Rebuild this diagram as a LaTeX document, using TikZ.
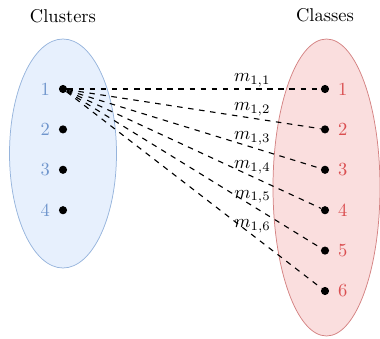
\documentclass[tikz,border=0pt]{standalone}
\usepackage{amsmath}
\usepackage{xcolor}
\usepackage{tikz}

\definecolor{clublue}{RGB}{112,150,205}
\definecolor{clufill}{RGB}{231,240,253}
\definecolor{cluedge}{RGB}{150,180,220}
\definecolor{clared}{RGB}{218,78,80}
\definecolor{clafill}{RGB}{250,222,222}
\definecolor{claedge}{RGB}{212,130,130}

\tikzset{
	dot/.style={circle,fill=black,inner sep=0pt,minimum size=4.4pt},
	match/.style={dashed,semithick},
}

\begin{document}
\begin{tikzpicture}[x=0.019cm,y=-0.019cm]
		\useasboundingbox (0,0) rectangle (380,339);
		% the two sets
		\draw[cluedge,fill=clufill] (63,153.5) ellipse (53.5 and 114.5);
		\draw[claedge,fill=clafill] (326.5,187.5) ellipse (53.5 and 148.5);
		\node (cluhead) at (63,16) {Clusters};
		\node (clahead) at (325,15) {Classes};
		% cluster points
		\foreach \i in {1,...,4} {
			\node[dot] (c\i) at (63,{89+40.4*(\i-1)}) {};
			\node[text=clublue,left=3.5pt] at (c\i) {\i};
		}
		% class points
		\foreach \j in {1,...,6} {
			\node[dot] (k\j) at (325,{89+40.4*(\j-1)}) {};
			\node[text=clared,right=3.5pt] at (k\j) {\j};
		}
		\foreach \j in {1,...,6}
			\draw[match] (c1) -- node[pos=0.73,above,inner sep=1pt] {$m_{1,\j}$} (k\j);
	\end{tikzpicture}
\end{document}
